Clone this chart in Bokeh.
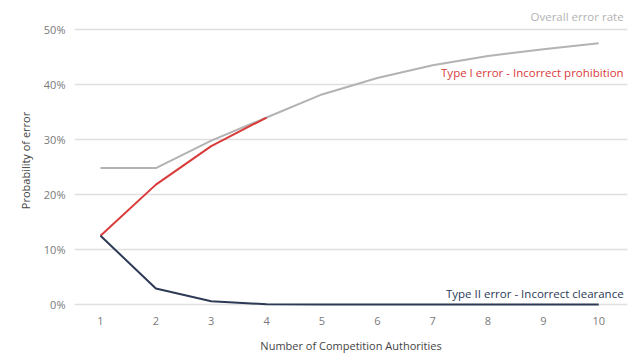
from bokeh.plotting import figure
from bokeh.models import Range1d, Label, FixedTicker, PrintfTickFormatter
from bokeh.embed import file_html
from bokeh.resources import INLINE

authorities = [1, 2, 3, 4, 5, 6, 7, 8, 9, 10]
overall = [24.8, 24.8, 29.8, 34.0, 38.2, 41.2, 43.5, 45.2, 46.4, 47.5]
type1_x = [1, 2, 3, 4]
type1 = [12.5, 21.8, 28.8, 34.0]
type2 = [12.5, 2.9, 0.6, 0.05, 0.0, 0.0, 0.0, 0.0, 0.0, 0.0]
y_ticks = [0, 10, 20, 30, 40, 50]

FONT = "Open Sans"
GRAY = "#b3b3b3"
RED = "#d93a3a"
NAVY = "#2c3a56"

p = figure(width=636, height=358, output_backend="svg", toolbar_location=None,
           x_range=Range1d(0.53, 10.52), y_range=Range1d(-0.73, 53.1),
           min_border_left=74, min_border_right=9, min_border_top=12, min_border_bottom=50)
p.outline_line_color = None
p.background_fill_color = "white"
p.border_fill_color = "white"

p.line(authorities, overall, line_color=GRAY, line_width=2)
p.line(type1_x, type1, line_color=RED, line_width=2)
p.line(authorities, type2, line_color=NAVY, line_width=2)

p.xgrid.grid_line_color = None
p.ygrid.grid_line_color = "#e0e0e0"
p.ygrid.grid_line_width = 1.5

for ax in (p.xaxis[0], p.yaxis[0]):
    ax.axis_line_color = None
    ax.major_tick_line_color = None
    ax.minor_tick_line_color = None
    ax.major_label_text_font = FONT
    ax.major_label_text_font_size = "11px"
    ax.major_label_text_color = "#7a7a7a"
    ax.axis_label_text_font = FONT
    ax.axis_label_text_font_size = "11px"
    ax.axis_label_text_font_style = "normal"
    ax.axis_label_text_color = "#444444"

p.xaxis.ticker = FixedTicker(ticks=authorities)
p.xaxis.major_label_standoff = 2
p.xaxis.axis_label = "Number of Competition Authorities"
p.xaxis.axis_label_standoff = 10

p.yaxis.ticker = FixedTicker(ticks=y_ticks)
p.yaxis.formatter = PrintfTickFormatter(format="%d%%")
p.yaxis.major_label_standoff = 3
p.yaxis.axis_label = "Probability of error"
p.yaxis.axis_label_standoff = 8

labels = [
    ("Overall error rate", 52.4, GRAY),
    ("Type I error - Incorrect prohibition", 42.1, RED),
    ("Type II error - Incorrect clearance", 2.0, NAVY),
]
for txt, y, col in labels:
    p.add_layout(Label(x=10.45, y=y, text=txt, text_align="right", text_baseline="middle",
                       text_font=FONT, text_font_size="11.5px", text_color=col))

open("out.html", "w").write(file_html(p, INLINE))
